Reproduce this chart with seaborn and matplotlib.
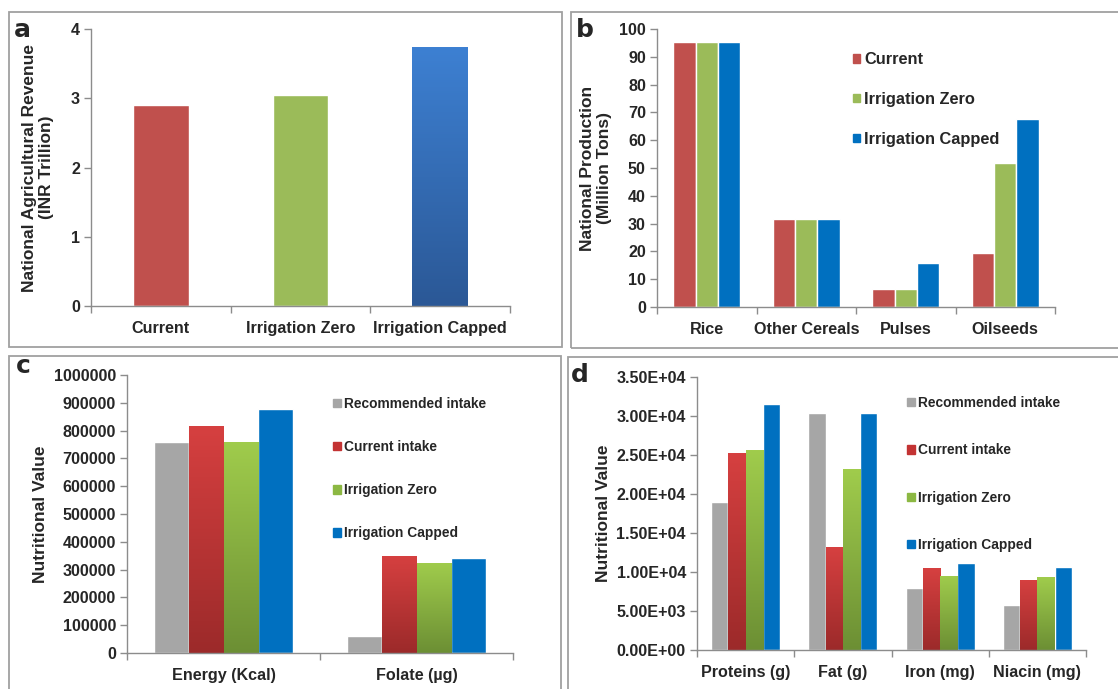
import numpy as np
import pandas as pd
import matplotlib
matplotlib.use("Agg")
import matplotlib.pyplot as plt
import seaborn as sns
from matplotlib.patches import Patch, Rectangle
from matplotlib.colors import LinearSegmentedColormap
from matplotlib.ticker import FuncFormatter, MultipleLocator, FixedLocator, NullFormatter

# ---------------- data ----------------
scenarios = ["Current", "Irrigation Zero", "Irrigation Capped"]
revenue = [2.90, 3.05, 3.74]

crops = ["Rice", "Other Cereals", "Pulses", "Oilseeds"]
prod_current = [95.3, 31.7, 6.4, 19.6]
prod_zero = [95.3, 31.7, 6.4, 51.7]
prod_capped = [95.3, 31.7, 16.0, 67.6]

intake_levels = ["Recommended intake", "Current intake", "Irrigation Zero", "Irrigation Capped"]

nutrients_c = ["Energy (Kcal)", "Folate (µg)"]
c_recommended = [760000, 61000]
c_current = [817000, 349000]
c_zero = [760000, 325000]
c_capped = [876000, 340000]

nutrients_d = ["Proteins (g)", "Fat (g)", "Iron (mg)", "Niacin (mg)"]
d_recommended = [19000, 30400, 8000, 5800]
d_current = [25200, 13200, 10500, 9000]
d_zero = [25600, 23200, 9500, 9300]
d_capped = [31600, 30400, 11200, 10700]

# ---------------- style ----------------
sns.set_style("white")
plt.rcParams["font.family"] = ["Liberation Sans", "DejaVu Sans"]
plt.rcParams["font.weight"] = "bold"
plt.rcParams["axes.labelweight"] = "bold"

RED, GREEN, BLUE = "#C0504D", "#9BBB59", "#0070C0"
GRAY = "#A6A6A6"
SPINE = "#8C8C8C"
W, H = 1118, 689

fig = plt.figure(figsize=(W / 100, H / 100), dpi=100)


def add_ax(x0, y0, x1, y1):
    # pixel box (top-left origin) -> figure fraction
    return fig.add_axes([x0 / W, 1 - y1 / H, (x1 - x0) / W, (y1 - y0) / H])


def frame(x0, y0, x1, y1):
    fig.add_artist(Rectangle((x0 / W, 1 - y1 / H), (x1 - x0) / W, (y1 - y0) / H,
                             transform=fig.transFigure, fill=False,
                             edgecolor="#A0A0A0", lw=1.3))


def gradient(ax, patch, top, bottom):
    x, y = patch.get_x(), patch.get_y()
    w, h = patch.get_width(), patch.get_height()
    cmap = LinearSegmentedColormap.from_list("g", [bottom, top])
    im = ax.imshow(np.linspace(0, 1, 128).reshape(-1, 1), cmap=cmap, origin="lower",
                   extent=[x, x + w, y, y + h], aspect="auto", zorder=patch.get_zorder())
    im.set_clip_path(patch)
    patch.set_facecolor("none")


def style_axes(ax, n, ymax, ystep, fontsize=11.6):
    sns.despine(ax=ax)
    for s in ("left", "bottom"):
        ax.spines[s].set_color(SPINE)
        ax.spines[s].set_linewidth(1.0)
    ax.set_xlim(-0.5, n - 0.5)
    ax.set_ylim(0, ymax)
    ax.yaxis.set_major_locator(MultipleLocator(ystep))
    ax.xaxis.set_minor_locator(FixedLocator(np.arange(n + 1) - 0.5))
    ax.xaxis.set_minor_formatter(NullFormatter())
    ax.tick_params(axis="x", which="major", bottom=False, pad=7, labelsize=fontsize)
    ax.tick_params(axis="x", which="minor", bottom=True, length=5, width=1,
                   color=SPINE, direction="out")
    ax.tick_params(axis="y", left=True, length=5, width=1, color=SPINE, direction="out",
                   labelsize=fontsize, pad=3)
    ax.set_xlabel("")
    for lab in ax.get_xticklabels() + ax.get_yticklabels():
        lab.set_fontweight("bold")


# ---------------- panel a ----------------
frame(9, 12, 562, 347)
ax_a = add_ax(91, 29, 510, 306)
sns.barplot(x=scenarios, y=revenue, hue=scenarios, palette=[RED, GREEN, BLUE],
            width=0.4, legend=False, saturation=1, ax=ax_a)
gradient(ax_a, ax_a.patches[2], "#3D80D2", "#2B5896")
style_axes(ax_a, 3, 4, 1)
ax_a.set_ylabel("National Agricultural Revenue\n(INR Trillion)", fontsize=12.5,
                linespacing=1.15, labelpad=12)
fig.text(14 / W, 1 - 37 / H, "a", family="DejaVu Sans", weight="bold", fontsize=18)

# ---------------- panel b ----------------
frame(571, 12, 1125, 348)
ax_b = add_ax(657, 29, 1055, 307)
df_b = pd.DataFrame({
    "crop": crops * 3,
    "scenario": sum([[s] * len(crops) for s in scenarios], []),
    "value": prod_current + prod_zero + prod_capped,
})
sns.barplot(data=df_b, x="crop", y="value", hue="scenario", hue_order=scenarios,
            palette=[RED, GREEN, BLUE], width=0.67, legend=False, saturation=1, ax=ax_b)
style_axes(ax_b, 4, 100, 10)
ax_b.set_ylabel("National Production\n(Million Tons)", fontsize=12.5, linespacing=1.15,
                labelpad=5)
ax_b.legend([Patch(color=c) for c in (RED, GREEN, BLUE)], scenarios, loc="upper left",
            bbox_to_anchor=((853 - 657) / 398, 1 - (52 - 29) / 278), frameon=False,
            fontsize=11.8, handlelength=0.45, handleheight=0.45, handletextpad=0.25,
            labelspacing=1.52, borderpad=0, borderaxespad=0)
fig.text(576 / W, 1 - 37 / H, "b", family="DejaVu Sans", weight="bold", fontsize=18)

# ---------------- panel c ----------------
frame(9, 356, 561, 700)
ax_c = add_ax(127, 375, 513, 653)
df_c = pd.DataFrame({
    "nutrient": nutrients_c * 4,
    "level": sum([[s] * len(nutrients_c) for s in intake_levels], []),
    "value": c_recommended + c_current + c_zero + c_capped,
})
sns.barplot(data=df_c, x="nutrient", y="value", hue="level", hue_order=intake_levels,
            palette=[GRAY, RED, GREEN, BLUE], width=0.725, legend=False, saturation=1, ax=ax_c)
for p in ax_c.containers[1]:
    gradient(ax_c, p, "#D64040", "#9C2A2A")
for p in ax_c.containers[2]:
    gradient(ax_c, p, "#A0CC4C", "#6C8F34")
style_axes(ax_c, 2, 1000000, 100000)
ax_c.yaxis.set_major_formatter(FuncFormatter(lambda v, _: f"{v:.0f}"))
ax_c.set_ylabel("Nutritional Value", fontsize=12.5, labelpad=4)
leg_colors = [GRAY, "#C33333", "#8CB843", BLUE]
ax_c.legend([Patch(color=c) for c in leg_colors], intake_levels, loc="upper left",
            bbox_to_anchor=((333 - 127) / 386, 1 - (397 - 375) / 278), frameon=False,
            fontsize=9.9, handlelength=0.55, handleheight=0.55, handletextpad=0.25,
            labelspacing=2.12, borderpad=0, borderaxespad=0)
fig.text(16 / W, 1 - 373 / H, "c", family="DejaVu Sans", weight="bold", fontsize=18)

# ---------------- panel d ----------------
frame(568, 357, 1125, 700)
ax_d = add_ax(697, 377, 1086, 650)
df_d = pd.DataFrame({
    "nutrient": nutrients_d * 4,
    "level": sum([[s] * len(nutrients_d) for s in intake_levels], []),
    "value": d_recommended + d_current + d_zero + d_capped,
})
sns.barplot(data=df_d, x="nutrient", y="value", hue="level", hue_order=intake_levels,
            palette=[GRAY, RED, GREEN, BLUE], width=0.71, legend=False, saturation=1, ax=ax_d)
for p in ax_d.containers[1]:
    gradient(ax_d, p, "#D64040", "#9C2A2A")
for p in ax_d.containers[2]:
    gradient(ax_d, p, "#A0CC4C", "#6C8F34")
style_axes(ax_d, 4, 35000, 5000)
ax_d.yaxis.set_major_formatter(FuncFormatter(lambda v, _: f"{v:.2E}"))
ax_d.set_ylabel("Nutritional Value", fontsize=12.5, labelpad=4)
ax_d.legend([Patch(color=c) for c in leg_colors], intake_levels, loc="upper left",
            bbox_to_anchor=((907 - 697) / 389, 1 - (396 - 377) / 273), frameon=False,
            fontsize=9.9, handlelength=0.55, handleheight=0.55, handletextpad=0.25,
            labelspacing=2.42, borderpad=0, borderaxespad=0)
fig.text(571 / W, 1 - 382 / H, "d", family="DejaVu Sans", weight="bold", fontsize=18)

fig.savefig("out.png", dpi=100)
